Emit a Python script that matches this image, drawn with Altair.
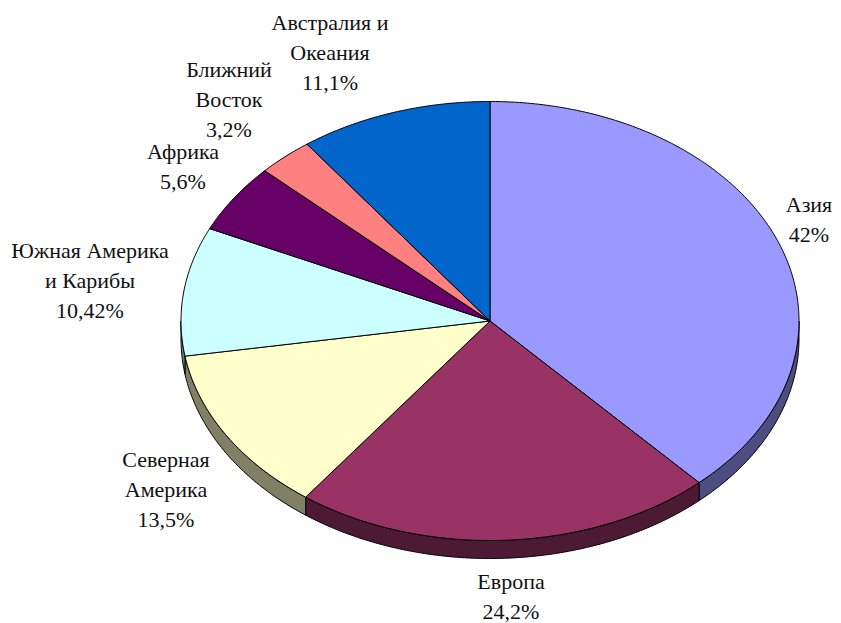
import math
import altair as alt

# ---- data ----
regions = ["Азия", "Европа", "Северная Америка", "Южная Америка и Карибы", "Африка", "Ближний Восток", "Австралия и Океания"]
shares = [42, 24.2, 13.5, 10.42, 5.6, 3.2, 11.1]
label_lines = [
    ["Азия", "42%"],
    ["Европа", "24,2%"],
    ["Северная", "Америка", "13,5%"],
    ["Южная Америка", "и Карибы", "10,42%"],
    ["Африка", "5,6%"],
    ["Ближний", "Восток", "3,2%"],
    ["Австралия и", "Океания", "11,1%"],
]
top_colors = ["#9999FF", "#993366", "#FFFFCC", "#CCFFFF", "#660066", "#FF8080", "#0066CC"]
side_colors = ["#4D4D80", "#4D1A33", "#808066", "#668080", "#330033", "#804040", "#003366"]

# ---- layout (chart-local pixels; the page adds 8px) ----
W, H = 825, 614
CX, CY, RX, RY, DEPTH = 482, 313, 309, 219.5, 18
LINE = 30
FONT = "Liberation Serif"
FONT_SIZE = 22
label_centres = [(801, 212), (503, 589), (158, 482), (82, 273), (175, 159), (221, 92), (322, 45)]


def pt(deg, dy=0.0):
    a = math.radians(deg)
    return [CX + RX * math.sin(a), CY - RY * math.cos(a) + dy]


def arc(a0, a1, dy=0.0):
    n = max(2, int(abs(a1 - a0) * 2) + 1)
    return [pt(a0 + (a1 - a0) * i / n, dy) for i in range(n + 1)]


total = sum(shares)
features = []
start = 0.0
tops = []
for name, s in zip(regions, shares):
    end = start + 360.0 * s / total
    # side wall: only the front half of the rim (90..270 degrees) shows
    lo, hi = max(start, 90.0), min(end, 270.0)
    if hi > lo:
        ring = arc(lo, hi) + arc(hi, lo, DEPTH)
        ring.append(ring[0])
        features.append({"type": "Feature", "properties": {"key": name + " side"},
                         "geometry": {"type": "Polygon", "coordinates": [ring]}})
    ring = [[CX, CY]] + arc(start, end) + [[CX, CY]]
    tops.append({"type": "Feature", "properties": {"key": name},
                 "geometry": {"type": "Polygon", "coordinates": [ring]}})
    start = end
features += tops

keys = regions + [r + " side" for r in regions]
pie = alt.Chart(alt.Data(values=features)).mark_geoshape(stroke="black", strokeWidth=1).encode(
    fill=alt.Fill("properties.key:N", scale=alt.Scale(domain=keys, range=top_colors + side_colors), legend=None)
).project(type="identity", scale=1, translate=[0, 0], reflectY=False)

rows = []
for lines, (x, y) in zip(label_lines, label_centres):
    for i, t in enumerate(lines):
        rows.append({"t": t, "x": x, "y": y + (i - (len(lines) - 1) / 2) * LINE})

labels = alt.Chart(alt.Data(values=rows)).mark_text(
    font=FONT, fontSize=FONT_SIZE, color="#111111", align="center", baseline="middle"
).encode(
    x=alt.X("x:Q", scale=None),
    y=alt.Y("y:Q", scale=None),
    text="t:N",
)

chart = alt.layer(pie, labels).properties(width=W, height=H, padding=0, background="white").configure_view(stroke=None)
chart.save("out.html", embed_options={"renderer": "svg", "actions": False})
